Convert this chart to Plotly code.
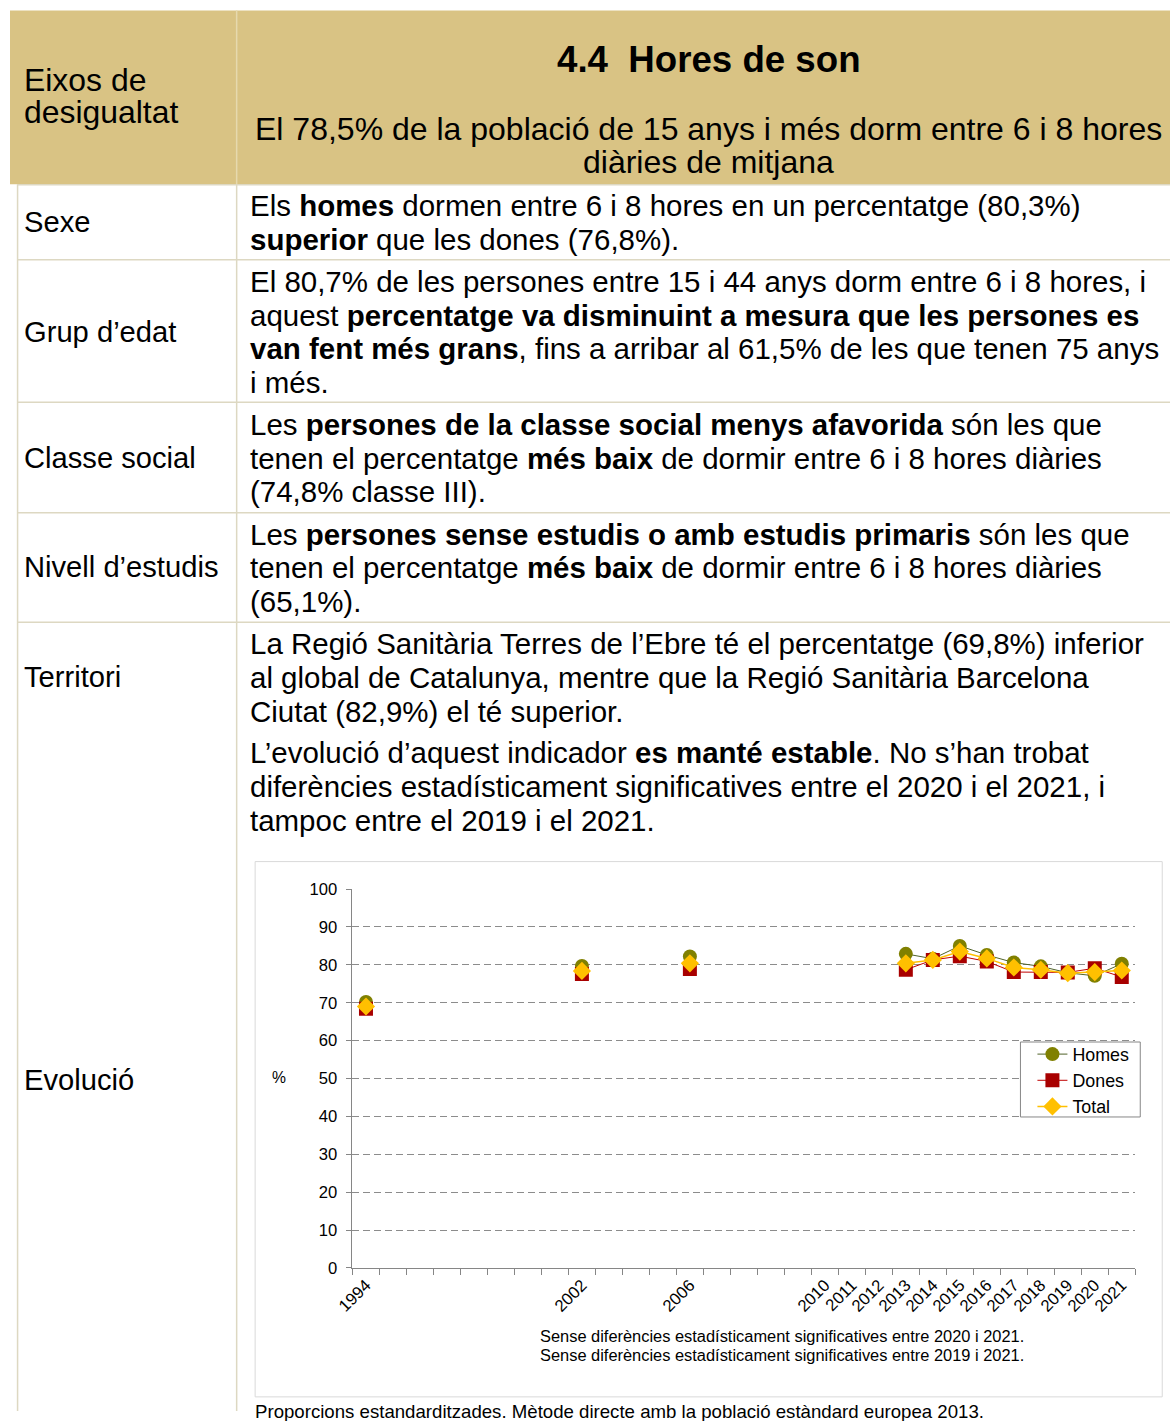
import plotly.graph_objects as go

# ---------------- data ----------------
slot_labels = ["1994", "", "", "", "", "", "", "", "2002", "", "", "", "2006",
               "", "", "", "", "2010", "2011", "2012", "2013", "2014", "2015",
               "2016", "2017", "2018", "2019", "2020", "2021"]
years = ["1994", "2002", "2006", "2013", "2014", "2015", "2016", "2017",
         "2018", "2019", "2020", "2021"]
homes = [70.2, 79.7, 82.2, 82.9, 81.6, 85.0, 82.6, 80.6, 79.6, 77.9, 77.1, 80.3]
dones = [68.4, 77.6, 78.9, 78.7, 81.3, 82.3, 80.9, 78.1, 78.1, 78.0, 79.1, 76.8]
total = [69.0, 78.4, 80.4, 80.4, 81.3, 83.5, 81.7, 79.3, 78.7, 77.8, 78.1, 78.5]

W, H = 1170, 1421
FONT = "Liberation Sans, Arial, sans-serif"
# the captured picture is slightly scaled/shifted relative to page pixels;
# layout positions below are given in picture pixels and converted here
S, OX, OY = 0.987, 15.0, 8.6


def px(x):
    return ((x - OX) / S) / W


def py(y):
    return 1 - ((y - OY) / S) / H


def fs(v):
    return v / S


def full_series(vals):
    out = [None] * len(slot_labels)
    for yr, v in zip(years, vals):
        out[slot_labels.index(yr)] = v
    return out


xs = list(range(len(slot_labels)))

fig = go.Figure()
fig.add_trace(go.Scatter(x=xs, y=full_series(homes), name="Homes", mode="lines+markers",
                         connectgaps=False,
                         line=dict(color="#4F6228", width=1),
                         marker=dict(symbol="circle", size=14, color="#808000")))
fig.add_trace(go.Scatter(x=xs, y=full_series(dones), name="Dones", mode="lines+markers",
                         connectgaps=False,
                         line=dict(color="#C00000", width=1),
                         marker=dict(symbol="square", size=14, color="#A80000")))
fig.add_trace(go.Scatter(x=xs, y=full_series(total), name="Total", mode="lines+markers",
                         connectgaps=False,
                         line=dict(color="#FFC000", width=1.5),
                         marker=dict(symbol="diamond", size=14, color="#FFC000")))

tick_idx = [i for i, l in enumerate(slot_labels) if l]
fig.update_xaxes(domain=[px(351), px(1135)], range=[-0.5, len(slot_labels) - 0.5],
                 tickmode="array", tickvals=tick_idx,
                 ticktext=[slot_labels[i] for i in tick_idx],
                 tickangle=-45, ticks="", showgrid=False, zeroline=False,
                 showline=True, linecolor="#868686", linewidth=1,
                 tickfont=dict(family=FONT, size=fs(16.5), color="#000"),
                 minor=dict(tickmode="array",
                            tickvals=[i - 0.5 for i in range(len(slot_labels) + 1)],
                            ticks="outside", ticklen=6, tickcolor="#868686",
                            showgrid=False))
fig.update_yaxes(domain=[py(1268), py(889)], range=[0, 100], dtick=10,
                 showgrid=True, gridcolor="#8C8C8C", griddash="7px,4px", gridwidth=1,
                 zeroline=False, showline=True, linecolor="#868686", linewidth=1,
                 ticks="outside", ticklen=5, tickcolor="#868686",
                 ticklabelstandoff=6,
                 tickfont=dict(family=FONT, size=fs(16.4), color="#000"))

shapes = []
# header band
shapes.append(dict(type="rect", xref="paper", yref="paper", x0=px(8), x1=1.0,
                   y0=py(184), y1=py(10), fillcolor="#D9C384", line=dict(width=0),
                   layer="below"))
# header divider
shapes.append(dict(type="line", xref="paper", yref="paper", x0=px(235), x1=px(235),
                   y0=py(184), y1=py(10), line=dict(color="#E6D9AE", width=1.5)))
# table lines
LC = "#DDD8C2"
shapes.append(dict(type="line", xref="paper", yref="paper", x0=0.0005, x1=0.0005,
                   y0=0, y1=py(184), line=dict(color=LC, width=1.5)))
shapes.append(dict(type="line", xref="paper", yref="paper", x0=px(235), x1=px(235),
                   y0=0, y1=py(184), line=dict(color=LC, width=1.5)))
for yy in [184.5, 259.5, 402, 512.5, 622]:
    shapes.append(dict(type="line", xref="paper", yref="paper", x0=0, x1=1,
                       y0=py(yy), y1=py(yy), line=dict(color=LC, width=1.5)))
# chart box
shapes.append(dict(type="rect", xref="paper", yref="paper", x0=px(253.5), x1=px(1162),
                   y0=py(1397), y1=py(861.5), line=dict(color="#D9D9D9", width=1),
                   layer="below"))
# legend box
shapes.append(dict(type="rect", xref="paper", yref="paper", x0=px(1020), x1=px(1140),
                   y0=py(1117), y1=py(1042), fillcolor="white",
                   line=dict(color="#868686", width=1), layer="above"))
fig.update_layout(shapes=shapes)

ann = []
PAD = 3.5  # annotation inner padding compensation for left-anchored texts


def txt(x, y, t, size=29, anchor="left"):
    xx = x - PAD if anchor == "left" else x
    ann.append(dict(x=px(xx), y=py(y), xref="paper", yref="paper", text=t,
                    showarrow=False, xanchor=anchor, yanchor="middle",
                    font=dict(family=FONT, size=fs(size), color="#000")))


# header
txt(24, 80, "Eixos de", size=31.5)
txt(24, 112, "desigualtat", size=31.5)
txt(708, 59, "<b>4.4\u00a0 Hores de son</b>", size=36.2, anchor="center")
txt(708, 129, "El 78,5% de la població de 15 anys i més dorm entre 6 i 8 hores", size=31.6, anchor="center")
txt(708, 162, "diàries de mitjana", size=31.6, anchor="center")

# left column labels
for lab, yy in [("Sexe", 222), ("Grup d’edat", 332), ("Classe social", 458),
                ("Nivell d’estudis", 567), ("Territori", 677), ("Evolució", 1080)]:
    txt(24, yy, lab, size=28.8)

body = [
    (205, "Els <b>homes</b> dormen entre 6 i 8 hores en un percentatge (80,3%)"),
    (239, "<b>superior</b> que les dones (76,8%)."),
    (281, "El 80,7% de les persones entre 15 i 44 anys dorm entre 6 i 8 hores, i"),
    (315, "aquest <b>percentatge va disminuint a mesura que les persones es</b>"),
    (348, "<b>van fent més grans</b>, fins a arribar al 61,5% de les que tenen 75 anys"),
    (382, "i més."),
    (424, "Les <b>persones de la classe social menys afavorida</b> són les que"),
    (458, "tenen el percentatge <b>més baix</b> de dormir entre 6 i 8 hores diàries"),
    (491, "(74,8% classe III)."),
    (534, "Les <b>persones sense estudis o amb estudis primaris</b> són les que"),
    (567, "tenen el percentatge <b>més baix</b> de dormir entre 6 i 8 hores diàries"),
    (601, "(65,1%)."),
    (643, "La Regió Sanitària Terres de l’Ebre té el percentatge (69,8%) inferior"),
    (677, "al global de Catalunya, mentre que la Regió Sanitària Barcelona"),
    (711, "Ciutat (82,9%) el té superior."),
    (752, "L’evolució d’aquest indicador <b>es manté estable</b>. No s’han trobat"),
    (786, "diferències estadísticament significatives entre el 2020 i el 2021, i"),
    (820, "tampoc entre el 2019 i el 2021."),
]
for yy, t in body:
    txt(250, yy, t, size=29.1)

# chart texts
txt(272, 1078, "%", size=15.5)
txt(540, 1336, "Sense diferències estadísticament significatives entre 2020 i 2021.", size=16.2)
txt(540, 1355, "Sense diferències estadísticament significatives entre 2019 i 2021.", size=16.2)
txt(255, 1412, "Proporcions estandarditzades. Mètode directe amb la població estàndard europea 2013.", size=18.4)

fig.update_layout(
    annotations=ann,
    width=W, height=H, margin=dict(l=0, r=0, t=0, b=0),
    paper_bgcolor="white", plot_bgcolor="white",
    font=dict(family=FONT, color="#000"),
    showlegend=True,
    legend=dict(x=px(1032), y=py(1036), xanchor="left", yanchor="top",
                bgcolor="rgba(0,0,0,0)", borderwidth=0,
                font=dict(family=FONT, size=fs(17.6), color="#000"),
                itemwidth=30, tracegroupgap=0),
)

fig.write_html("out.html", config={"displayModeBar": False},
               post_script="document.body.style.margin='0';"
                           "document.documentElement.style.overflow='hidden';")
